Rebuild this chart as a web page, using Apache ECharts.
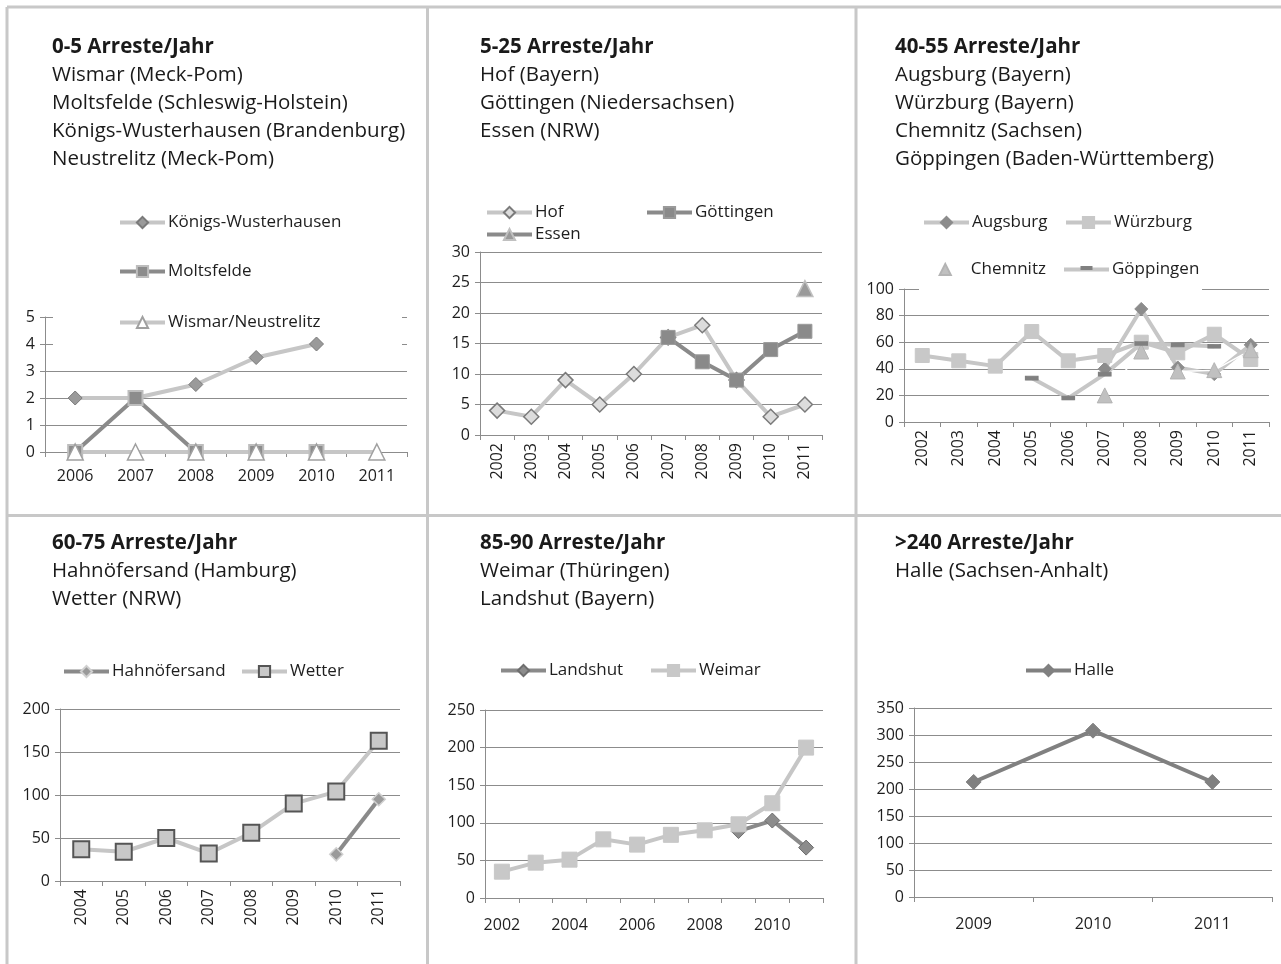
<!DOCTYPE html>
<html><head><meta charset="utf-8">
<script src="https://cdn.jsdelivr.net/npm/echarts@6/dist/echarts.min.js"></script>
<style>html,body{margin:0;padding:0;background:#fff}#c{width:1281px;height:964px}</style>
</head><body><div id="c"></div>
<script>
// ---- data ----
const years1 = ['2006','2007','2008','2009','2010','2011'];
const koenigsWusterhausen = [2, 2, 2.5, 3.5, 4, null];
const moltsfelde = [0, 2, 0, 0, 0, null];
const wismarNeustrelitz = [0, 0, 0, 0, 0, 0];

const years2 = ['2002','2003','2004','2005','2006','2007','2008','2009','2010','2011'];
const hof = [4, 3, 9, 5, 10, 16, 18, 9, 3, 5];
const goettingen = [null, null, null, null, null, 16, 12, 9, 14, 17];
const essen = [null, null, null, null, null, null, null, null, null, 24];

const years3 = ['2002','2003','2004','2005','2006','2007','2008','2009','2010','2011'];
const augsburg = [null, null, null, null, null, 40, 85, 41, 36, 58];
const wuerzburg = [50, 46, 42, 68, 46, 50, 60, 52, 66, 47];
const chemnitz = [null, null, null, null, null, 20, 53, 38, 39, 54];
const goeppingen = [null, null, null, 33, 18, 36, 59, 58, 57, null];

const years4 = ['2004','2005','2006','2007','2008','2009','2010','2011'];
const hahnoefersand = [null, null, null, null, null, null, 31, 95];
const wetter = [37, 34, 50, 32, 56, 90, 104, 163];

const years5 = ['2002','2003','2004','2005','2006','2007','2008','2009','2010','2011'];
const landshut = [null, null, null, null, null, null, null, 89, 103, 67];
const weimar = [35, 47, 51, 78, 71, 84, 90, 98, 126, 200];

const years6 = ['2009','2010','2011'];
const halle = [213, 308, 213];

const titles = [
  ['0-5 Arreste/Jahr','Wismar (Meck-Pom)','Moltsfelde (Schleswig-Holstein)','Königs-Wusterhausen (Brandenburg)','Neustrelitz (Meck-Pom)'],
  ['5-25 Arreste/Jahr','Hof (Bayern)','Göttingen (Niedersachsen)','Essen (NRW)'],
  ['40-55 Arreste/Jahr','Augsburg (Bayern)','Würzburg (Bayern)','Chemnitz (Sachsen)','Göppingen (Baden-Württemberg)'],
  ['60-75 Arreste/Jahr','Hahnöfersand (Hamburg)','Wetter (NRW)'],
  ['85-90 Arreste/Jahr','Weimar (Thüringen)','Landshut (Bayern)'],
  ['>240 Arreste/Jahr','Halle (Sachsen-Anhalt)']
];

// ---- styling ----
const FONT = 'Open Sans';
const LIGHT = '#c6c6c6', DARK = '#8a8a8a', GRIDC = '#8c8c8c', TXT = '#1e1e1e';
const chart = echarts.init(document.getElementById('c'), null, {renderer:'canvas'});

const gridsPos = [
  {left:45, top:317, width:362, height:135},
  {left:480, top:252, width:342, height:183},
  {left:904, top:289, width:365, height:133},
  {left:60, top:709, width:340, height:172},
  {left:485, top:710, width:338, height:188},
  {left:914, top:708, width:358, height:189}
];
const yRanges = [[0,5,1],[0,30,5],[0,100,20],[0,200,50],[0,250,50],[0,350,50]];
const cats = [years1, years2, years3, years4, years5, years6];
const rot = [0,90,90,90,0,0];
const xMargin = [16,8,8,8,19,19];
const labInt = [0,0,0,0,1,0];

const grid = gridsPos.map(g => Object.assign({containLabel:false}, g));
const xAxis = cats.map((c,i) => ({
  type:'category', gridIndex:i, data:c, boundaryGap:true,
  axisLine:{lineStyle:{color:GRIDC, width:1}},
  axisTick:{show:true, interval:0, length:5, inside:false, lineStyle:{color:GRIDC}},
  axisLabel:{color:TXT, fontFamily:FONT, fontSize:16, rotate:rot[i], margin:xMargin[i], interval:labInt[i]},
  splitLine:{show:false}
}));
const yAxis = yRanges.map((r,i) => ({
  type:'value', gridIndex:i, min:r[0], max:r[1], interval:r[2],
  axisLine:{show:true, lineStyle:{color:GRIDC, width:1}},
  axisTick:{show:true, length:5, lineStyle:{color:GRIDC}},
  axisLabel:{color:TXT, fontFamily:FONT, fontSize:16, margin:10},
  splitLine:{show:true, lineStyle:{color:GRIDC, width:1}}
}));

function ser(name, gi, data, o){
  return {
    name, type:'line', xAxisIndex:gi, yAxisIndex:gi, data, connectNulls:false,
    lineStyle:{width:o.lw||4, color:o.line}, symbol:o.symbol, symbolSize:o.size,
    itemStyle:{color:o.fill, borderColor:o.border||o.fill, borderWidth:o.bw||1},
    z: 2
  };
}

const series = [
  ser('Königs-Wusterhausen',0,koenigsWusterhausen,{line:LIGHT,symbol:'diamond',size:14,fill:'#9a9a9a',border:'#7a7a7a'}),
  ser('Moltsfelde',0,moltsfelde,{line:DARK,symbol:'rect',size:14,fill:'#8c8c8c',border:'#bdbdbd',bw:2}),
  ser('Wismar/Neustrelitz',0,wismarNeustrelitz,{line:LIGHT,symbol:'triangle',size:16,fill:'#ffffff',border:'#a0a0a0',bw:1.5}),

  ser('Hof',1,hof,{line:LIGHT,symbol:'diamond',size:15,fill:'#dcdcdc',border:'#7a7a7a',bw:1.5}),
  ser('Göttingen',1,goettingen,{line:DARK,symbol:'rect',size:14,fill:'#8a8a8a',border:'#9a9a9a'}),
  ser('Essen',1,essen,{line:DARK,symbol:'triangle',size:16,fill:'#9a9a9a',border:'#c0c0c0',bw:1.5}),

  ser('Augsburg',2,augsburg,{line:LIGHT,symbol:'diamond',size:13,fill:'#8c8c8c'}),
  ser('Würzburg',2,wuerzburg,{line:LIGHT,symbol:'rect',size:14,fill:'#c8c8c8'}),
  ser('Chemnitz',2,chemnitz,{line:'#ffffff',lw:1.5,symbol:'triangle',size:15,fill:'#c0c0c0',border:'#b4b4b4'}),
  ser('Göppingen',2,goeppingen,{line:LIGHT,symbol:'rect',size:[12,4],fill:'#808080'}),

  ser('Hahnöfersand',3,hahnoefersand,{line:DARK,symbol:'diamond',size:13,fill:'#9a9a9a',border:'#d0d0d0',bw:1.5}),
  ser('Wetter',3,wetter,{line:LIGHT,symbol:'rect',size:16,fill:'#c8c8c8',border:'#555555',bw:2}),

  ser('Landshut',4,landshut,{line:DARK,symbol:'diamond',size:15,fill:'#8c8c8c',border:'#6e6e6e'}),
  ser('Weimar',4,weimar,{line:LIGHT,symbol:'rect',size:15,fill:'#c8c8c8'}),

  ser('Halle',5,halle,{line:'#808080',symbol:'diamond',size:15,fill:'#808080'})
];

function leg(name, left, cy, lw){
  return {data:[name], left:left, top:cy-7, itemWidth:45, itemHeight:14, itemGap:0,
    padding:0, selectedMode:false,
    lineStyle:{width: lw===undefined ? 4 : lw},
    textStyle:{fontFamily:FONT, fontSize:17, color:TXT, padding:[0,0,0,-2]}};
}
// Göppingen legend: plain light bar icon (aspect kept), dark dash added as decoration
const legGoepp = {data:[{name:'Göppingen', icon:'path://M0,0L45,0L45,4L0,4Z', itemStyle:{color:LIGHT, borderWidth:0}}],
  left:1064, top:261, itemWidth:45, itemHeight:14, itemGap:0, padding:0, selectedMode:false,
  symbolKeepAspect:true,
  textStyle:{fontFamily:FONT, fontSize:17, color:TXT, padding:[0,0,0,-2]}};
const legend = [
  leg('Königs-Wusterhausen',118,221), leg('Moltsfelde',118,270), leg('Wismar/Neustrelitz',118,321),
  leg('Hof',485,211), leg('Göttingen',645,211), leg('Essen',485,233),
  leg('Augsburg',922,221), leg('Würzburg',1064,221), leg('Chemnitz',922,268,1.5), legGoepp,
  leg('Hahnöfersand',62,670), leg('Wetter',240,670),
  leg('Landshut',499,669), leg('Weimar',649,669),
  leg('Halle',1024,669)
];

// ---- graphics: borders, title texts, legend white backgrounds ----
const BORDER = '#c8c8c8';
const gfx = [
  {type:'line', shape:{x1:7,y1:7,x2:1281,y2:7}, style:{stroke:BORDER,lineWidth:3}, z:10},
  {type:'line', shape:{x1:7,y1:7,x2:7,y2:964}, style:{stroke:BORDER,lineWidth:3}, z:10},
  {type:'line', shape:{x1:427.5,y1:7,x2:427.5,y2:964}, style:{stroke:BORDER,lineWidth:3}, z:10},
  {type:'line', shape:{x1:856,y1:7,x2:856,y2:964}, style:{stroke:BORDER,lineWidth:3}, z:10},
  {type:'line', shape:{x1:7,y1:515.5,x2:1281,y2:515.5}, style:{stroke:BORDER,lineWidth:3}, z:10},
  // white legend areas hiding gridlines (under series)
  {type:'rect', shape:{x:53,y:200,width:349,height:158}, style:{fill:'#fff'}, z:1},
  {type:'rect', shape:{x:919,y:200,width:283,height:95}, style:{fill:'#fff'}, z:1},
  // dash glyph of the Göppingen legend icon
  {type:'rect', shape:{x:1080.5,y:266,width:12,height:4}, style:{fill:'#808080'}, z:20}
];
const titlePos = [[52,47],[480,47],[895,47],[52,543],[480,543],[895,543]];
titles.forEach((t,i) => {
  t.forEach((line,j) => {
    gfx.push({type:'text', x:titlePos[i][0], y:titlePos[i][1] + j*28, z:10,
      style:{text:line, fill:'#1a1a1a', font:(j===0?'bold ':'')+'20.5px "'+FONT+'"', verticalAlign:'middle', align:'left'}});
  });
});

chart.setOption({
  animation:false,
  backgroundColor:'#ffffff',
  grid, xAxis, yAxis, series, legend,
  graphic:{elements:gfx}
});
</script></body></html>
